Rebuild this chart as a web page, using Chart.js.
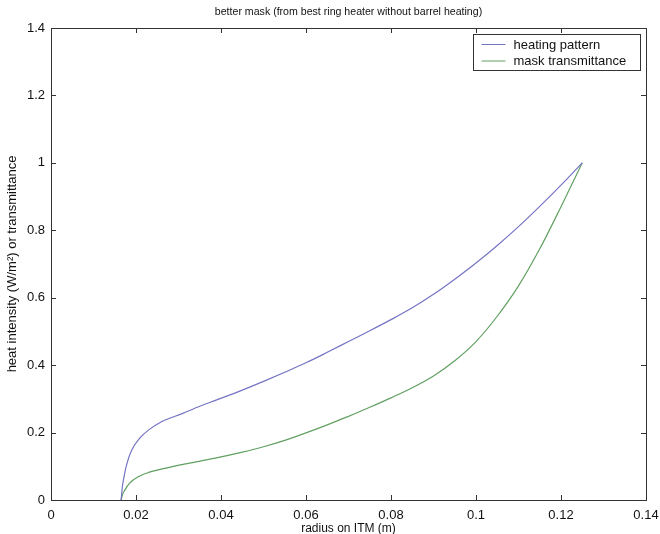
<!DOCTYPE html>
<html>
<head>
<meta charset="utf-8">
<script src="https://cdn.jsdelivr.net/npm/chart.js@4"></script>
<style>
  html, body { margin: 0; padding: 0; background: #fff; }
  #wrap { width: 660px; height: 534px; }
</style>
</head>
<body>
<div id="wrap"><canvas id="chart" width="660" height="534"></canvas></div>
<script>
const TITLE = "better mask (from best ring heater without barrel heating)";
const X_LABEL = "radius on ITM (m)";
const Y_LABEL = "heat intensity (W/m\u00B2) or transmittance";

const heatRadius = [0.0165, 0.0168, 0.0172, 0.0178, 0.019, 0.021, 0.023, 0.026, 0.031, 0.035, 0.039,
  0.045, 0.05, 0.055, 0.06, 0.065, 0.07, 0.075, 0.08, 0.085, 0.09, 0.095, 0.1, 0.105, 0.11,
  0.115, 0.12, 0.125];
const heatingPattern = [0, 0.04, 0.07, 0.105, 0.148, 0.185, 0.208, 0.232, 0.257, 0.278, 0.297,
  0.326, 0.352, 0.379, 0.407, 0.438, 0.47, 0.502, 0.535, 0.57, 0.61, 0.655, 0.703, 0.755, 0.811,
  0.871, 0.934, 1.0];

const maskRadius = [0.0165, 0.0168, 0.0174, 0.0185, 0.0205, 0.023, 0.0268, 0.032, 0.0386, 0.045,
  0.05, 0.055, 0.06, 0.065, 0.07, 0.075, 0.08, 0.085, 0.09, 0.095, 0.1, 0.105, 0.11, 0.115,
  0.12, 0.125];
const maskTransmittance = [0, 0.015, 0.03, 0.05, 0.069, 0.082, 0.094, 0.108, 0.124, 0.142,
  0.158, 0.177, 0.199, 0.223, 0.248, 0.275, 0.303, 0.333, 0.368, 0.413, 0.47, 0.545, 0.635, 0.745,
  0.87, 1.0];

const FONT = "Arial, 'Liberation Sans', sans-serif";
const AXIS_COLOR = "#333";

const pairs = (xs, ys) => xs.map((x, i) => ({ x, y: ys[i] }));

// MATLAB style box: frame, inward ticks on all sides, title and legend inside the axes
const matlabBox = {
  id: "matlabBox",
  afterDraw(chart) {
    const { ctx, chartArea: a, scales: { x, y } } = chart;
    ctx.save();
    ctx.strokeStyle = AXIS_COLOR;
    ctx.lineWidth = 1;
    ctx.strokeRect(Math.round(a.left) + 0.5, Math.round(a.top) + 0.5,
      Math.round(a.right - a.left), Math.round(a.bottom - a.top));
    const tl = 5;
    ctx.beginPath();
    x.ticks.forEach(t => {
      const px = Math.round(x.getPixelForValue(t.value)) + 0.5;
      ctx.moveTo(px, a.bottom); ctx.lineTo(px, a.bottom - tl);
      ctx.moveTo(px, a.top); ctx.lineTo(px, a.top + tl);
    });
    y.ticks.forEach(t => {
      const py = Math.round(y.getPixelForValue(t.value)) + 0.5;
      ctx.moveTo(a.left, py); ctx.lineTo(a.left + tl, py);
      ctx.moveTo(a.right, py); ctx.lineTo(a.right - tl, py);
    });
    ctx.stroke();

    // title
    ctx.fillStyle = "#111";
    ctx.font = "10.6px " + FONT;
    ctx.textAlign = "center";
    ctx.textBaseline = "middle";
    ctx.fillText(TITLE, (a.left + a.right) / 2, 12);

    // legend
    const bx = 473.5, by = 34.5, bw = 167, bh = 36;
    ctx.fillStyle = "#fff";
    ctx.fillRect(bx, by, bw, bh);
    ctx.strokeStyle = AXIS_COLOR;
    ctx.strokeRect(bx, by, bw, bh);
    ctx.font = "13px " + FONT;
    ctx.textAlign = "left";
    chart.data.datasets.forEach((ds, i) => {
      const ry = by + 10 + i * 16.5;
      ctx.strokeStyle = ds.borderColor;
      ctx.beginPath();
      ctx.moveTo(bx + 8, ry); ctx.lineTo(bx + 32, ry);
      ctx.stroke();
      ctx.fillStyle = "#111";
      ctx.fillText(ds.label, bx + 40, ry + 0.5);
    });
    ctx.restore();
  }
};

new Chart(document.getElementById("chart"), {
  type: "scatter",
  data: {
    datasets: [
      {
        label: "heating pattern",
        data: pairs(heatRadius, heatingPattern),
        showLine: true, borderColor: "#7474c4", borderWidth: 1.2,
        pointRadius: 0, cubicInterpolationMode: "monotone", fill: false,
      },
      {
        label: "mask transmittance",
        data: pairs(maskRadius, maskTransmittance),
        showLine: true, borderColor: "#62a062", borderWidth: 1.2,
        pointRadius: 0, cubicInterpolationMode: "monotone", fill: false,
      },
    ]
  },
  options: {
    responsive: false,
    animation: false,
    layout: { padding: { top: 28, right: 14, left: 0, bottom: 0 } },
    plugins: {
      legend: { display: false },
      tooltip: { enabled: false },
      title: { display: false },
    },
    scales: {
      x: {
        type: "linear", min: 0, max: 0.14,
        grid: { display: false, drawTicks: false },
        border: { display: false },
        ticks: {
          stepSize: 0.02, padding: 8, color: "#111", maxRotation: 0,
          font: { family: FONT, size: 13 },
          callback: v => String(parseFloat(v.toFixed(2))),
        },
        title: {
          display: true, text: X_LABEL, color: "#111",
          font: { family: FONT, size: 12 }, padding: { top: 0, bottom: -2 },
        },
        afterFit: s => { s.height = 34; s.paddingLeft = 0; s.paddingRight = 0; },
      },
      y: {
        type: "linear", min: 0, max: 1.4,
        grid: { display: false, drawTicks: false },
        border: { display: false },
        ticks: {
          stepSize: 0.2, padding: 6, color: "#111",
          font: { family: FONT, size: 13 },
          callback: v => String(parseFloat(v.toFixed(1))),
        },
        title: {
          display: true, text: Y_LABEL, color: "#111",
          font: { family: FONT, size: 13 }, padding: { top: 5, bottom: 0 },
        },
        afterFit: s => { s.width = 51; s.paddingTop = 0; s.paddingBottom = 0; },
      }
    }
  },
  plugins: [matlabBox]
});
</script>
</body>
</html>
